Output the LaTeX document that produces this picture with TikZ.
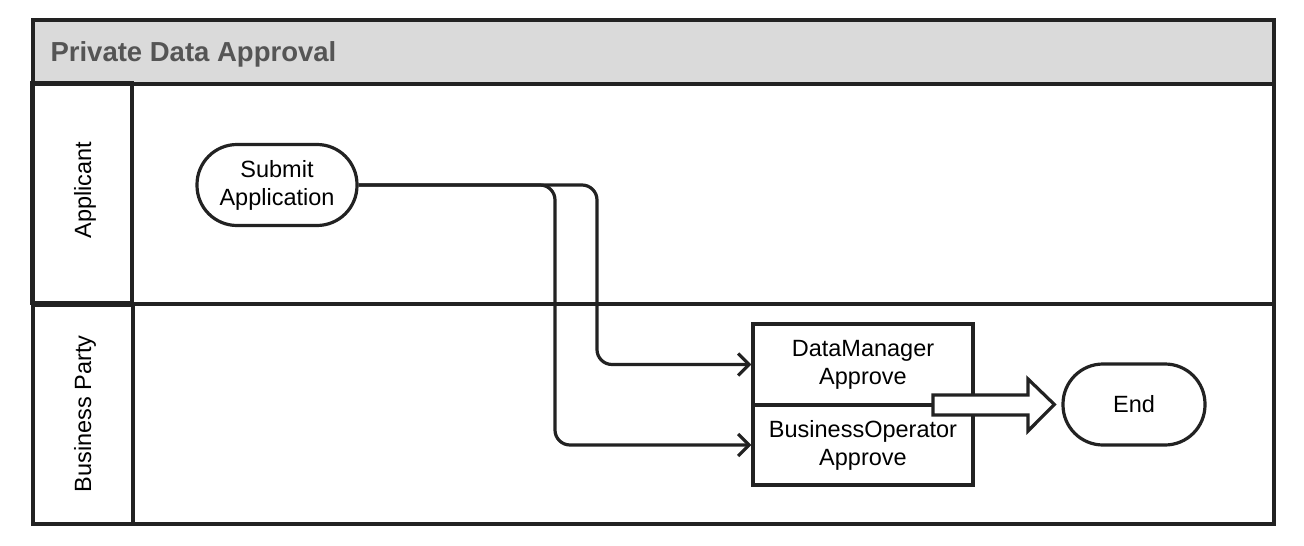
\documentclass[tikz,border=0pt]{standalone}
\usepackage{fontspec}
\setmainfont{Liberation Sans}
\usetikzlibrary{arrows.meta,calc}
\definecolor{hdr}{HTML}{DADADA}
\definecolor{ttl}{HTML}{555555}
\definecolor{ln}{HTML}{222222}
\tikzset{
  frame/.style={draw=ln, line width=3.3pt},
  lbl/.style={font=\fontsize{23.5}{28}\selectfont, text=black},
  term/.style={draw=ln, line width=3.2pt, rounded corners=40pt, fill=white, align=center, lbl, inner sep=0pt},
  task/.style={draw=ln, line width=3.2pt, fill=white, align=center, lbl, inner sep=0pt},
  conn/.style={draw=ln, line width=3.2pt, rounded corners=15pt, -{Straight Barb[length=11pt,width=22pt,line width=3.2pt]}},
  blockarr/.style={draw=ln, line width=3.2pt, fill=white, line join=miter}
}
\begin{document}
\begin{tikzpicture}[x=1pt,y=-1pt]
\useasboundingbox (0,0) rectangle (1304,546);
% pool
\draw[frame, fill=hdr] (33,20) rectangle (1274,84);
\node[anchor=west, text=ttl, font=\fontsize{27.5}{32}\selectfont\bfseries] (title) at (47,54) {Private Data Approval};
\draw[frame] (33,84) rectangle (1274,304);
\draw[frame] (33,304) rectangle (1274,524);
\draw[frame] (32,83) rectangle (132,303);
\draw[frame] (33,305) rectangle (133,524);
\node[lbl, rotate=90] (lane1) at (85,190) {Applicant};
\node[lbl, rotate=90] (lane2) at (85,414) {Business Party};
% nodes
\node[term, minimum width=160pt, minimum height=81pt] (sub) at (277,185) {Submit\\Application};
\node[task, minimum width=220pt, minimum height=81pt] (dm) at (863,364.5) {DataManager\\Approve};
\node[task, minimum width=220pt, minimum height=80pt] (bo) at (863,445) {BusinessOperator\\Approve};
\node[term, minimum width=142pt, minimum height=81pt] (end) at (1134,404.5) {End};
% connectors
\draw[conn] (sub.east) -- (555,185) |- (bo.west);
\draw[conn] (sub.east) -- (597,185) |- (dm.west);
% block arrow
\coordinate (tip) at ($(end.west)+(-7,0)$);
\draw[blockarr] (933,395) -- (1028,395) -- (1028,379) -- (tip) -- (1028,431) -- (1028,415) -- (933,415) -- cycle;
\end{tikzpicture}
\end{document}
